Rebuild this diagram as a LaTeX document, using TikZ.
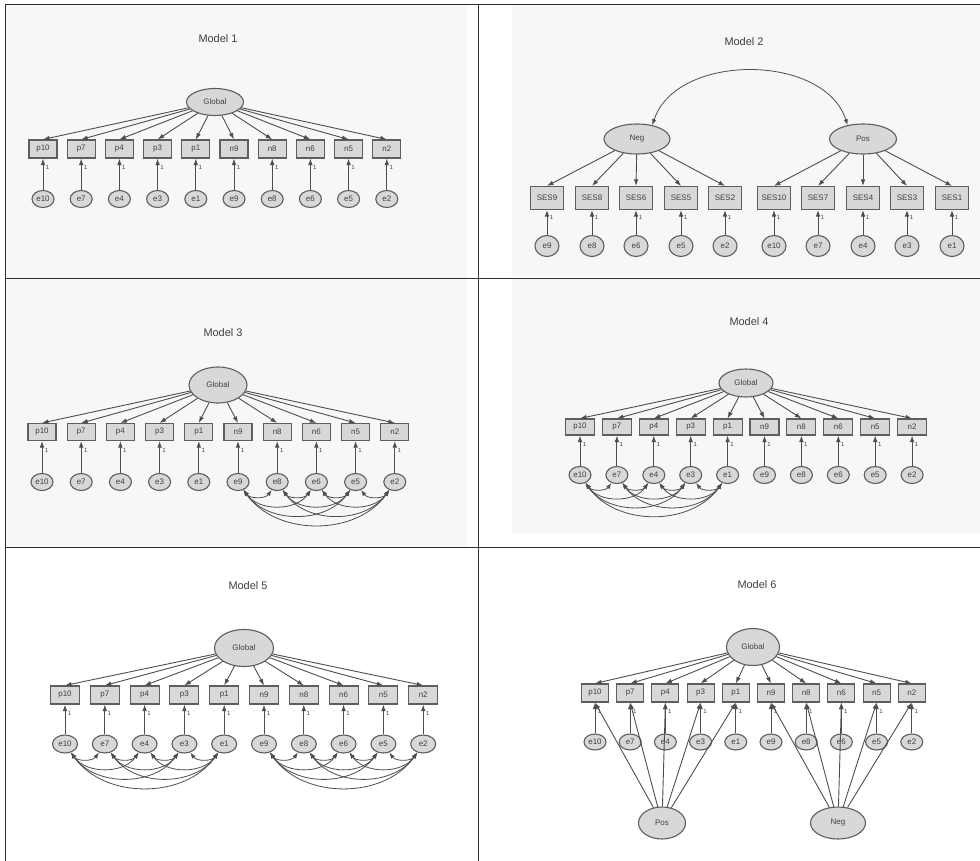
\documentclass[tikz,border=0pt]{standalone}
\usepackage{fontspec}
\setmainfont{Liberation Sans}
\usetikzlibrary{arrows.meta,shapes.geometric}

\definecolor{lineC}{HTML}{4E4E4E}
\definecolor{nodeFill}{HTML}{D8D8D8}
\definecolor{nodeLine}{HTML}{5E5E5E}
\definecolor{txtC}{HTML}{404040}
\definecolor{panelBg}{HTML}{F7F7F7}
\definecolor{ruleC}{HTML}{2E2E2E}

\tikzset{
  latent/.style={ellipse, draw=nodeLine, fill=nodeFill, line width=1.1bp, inner sep=0pt,
    font=\fontsize{8}{9}\selectfont, text=txtC},
  errnode/.style={ellipse, draw=nodeLine, fill=nodeFill, line width=1.1bp, inner sep=0pt,
    font=\fontsize{8}{9}\selectfont, text=txtC},
  itembox/.style={rectangle, draw=nodeLine, fill=nodeFill, line width=1.1bp, inner sep=0pt,
    font=\fontsize{8}{9}\selectfont, text=txtC},
  load/.style={draw=lineC, line width=0.9bp, -{Latex[length=6.5bp,width=4.6bp]}},
  cov/.style={draw=lineC, line width=0.8bp, {Latex[length=6bp,width=4.4bp]}-{Latex[length=6bp,width=4.4bp]}},
  onelab/.style={font=\fontsize{6}{6}\selectfont, text=txtC, inner sep=0pt},
  paneltitle/.style={font=\fontsize{11}{12}\selectfont, text=txtC},
  rule/.style={draw=ruleC, line width=0.8bp},
}

% ten indicators with their error terms; #1 prefix, #2 first x, #3 step, #4 box y, #5 error y
\newcommand\itemrow[5]{%
  \foreach \iv/\ev [count=\k from 0] in {p10/e10,p7/e7,p4/e4,p3/e3,p1/e1,n9/e9,n8/e8,n6/e6,n5/e5,n2/e2}{
    \pgfmathsetmacro\xx{#2+\k*#3}
    \node[itembox] (#1\iv) at (\xx,#4) {\iv};
    \node[errnode] (#1\ev) at (\xx,#5) {\ev};
    \draw[load] (#1\ev) -- (#1\iv);
    \node[onelab] at ([xshift=4.5bp,yshift=-9bp]#1\iv.south) {1};
  }%
}
% loadings of the general factor on all ten indicators
\newcommand\globalload[1]{%
  \foreach \iv in {p10,p7,p4,p3,p1,n9,n8,n6,n5,n2}{
    \draw[load] (#1G) -- (#1\iv.north);
  }%
}
% all pairwise error covariances within a set of five
\newcommand\covset[2]{%
  \foreach \a [count=\i] in {#2}{
    \foreach \b [count=\j] in {#2}{
      \ifnum\j>\i
        \draw[cov] (#1\a.-55) to[out=-55,in=-125] (#1\b.-125);
      \fi
    }
  }%
}

\begin{document}
\begin{tikzpicture}[x=1bp,y=-1bp]
\useasboundingbox (0,0) rectangle (980,861);
\fill[white] (0,0) rectangle (980,861);

% panel backgrounds
\fill[panelBg] (5,4) rectangle (467,278);
\fill[panelBg] (512,4) rectangle (980,277);
\fill[panelBg] (5,279) rectangle (467,547);
\fill[panelBg] (512,279) rectangle (980,534);

% table rules
\draw[rule] (5,4) -- (980,4);
\draw[rule] (5,4) -- (5,861);
\draw[rule] (478,4) -- (478,861);
\draw[rule] (5,278.5) -- (980,278.5);
\draw[rule] (5,547) -- (980,547);

% ---------------- Model 1 ----------------
\node[paneltitle] (t1) at (218,39) {Model 1};
\begin{scope}[itembox/.append style={minimum width=28bp,minimum height=18bp},
              errnode/.append style={minimum width=22bp,minimum height=17bp}]
  \node[latent, minimum width=57bp, minimum height=27bp] (aG) at (215,102) {Global};
  \itemrow{a}{43}{38.2}{149}{199}
  \globalload{a}
\end{scope}

% ---------------- Model 2 ----------------
\node[paneltitle] (t2) at (744,42) {Model 2};
\begin{scope}[itembox/.append style={minimum width=33bp,minimum height=23bp},
              errnode/.append style={minimum width=24bp,minimum height=21bp}]
  \node[latent, minimum width=66bp, minimum height=30bp] (bNeg) at (637,139) {Neg};
  \node[latent, minimum width=67bp, minimum height=30bp] (bPos) at (863,139) {Pos};
  \foreach \iv/\ev/\xx/\fa in {SES9/e9/547/Neg,SES8/e8/592/Neg,SES6/e6/636/Neg,SES5/e5/681/Neg,SES2/e2/725/Neg,
                               SES10/e10/774/Pos,SES7/e7/818/Pos,SES4/e4/863/Pos,SES3/e3/907/Pos,SES1/e1/952/Pos}{
    \node[itembox] (b\iv) at (\xx,198) {\iv};
    \node[errnode] (b\ev) at (\xx,246) {\ev};
    \draw[load] (b\ev) -- (b\iv);
    \node[onelab] at ([xshift=4.5bp,yshift=-7bp]b\iv.south) {1};
    \draw[load] (b\fa) -- (b\iv.north);
  }
  \draw[cov] (bNeg.42) to[out=72,in=108] (bPos.138);
\end{scope}

% ---------------- Model 3 ----------------
\node[paneltitle] (t3) at (223,333) {Model 3};
\begin{scope}[itembox/.append style={minimum width=28bp,minimum height=17bp},
              errnode/.append style={minimum width=22bp,minimum height=17bp}]
  \node[latent, minimum width=58bp, minimum height=36bp] (cG) at (218,385) {Global};
  \itemrow{c}{42}{39.2}{432}{482}
  \globalload{c}
  \covset{c}{e9,e8,e6,e5,e2}
\end{scope}

% ---------------- Model 4 ----------------
\node[paneltitle] (t4) at (749,322) {Model 4};
\begin{scope}[itembox/.append style={minimum width=29bp,minimum height=16bp},
              errnode/.append style={minimum width=22bp,minimum height=17bp}]
  \node[latent, minimum width=54bp, minimum height=28bp] (dG) at (746,383) {Global};
  \itemrow{d}{580}{36.9}{427}{475}
  \globalload{d}
  \covset{d}{e10,e7,e4,e3,e1}
\end{scope}

% ---------------- Model 5 ----------------
\node[paneltitle] (t5) at (248,586) {Model 5};
\begin{scope}[itembox/.append style={minimum width=29bp,minimum height=18bp},
              errnode/.append style={minimum width=25bp,minimum height=18bp}]
  \node[latent, minimum width=59bp, minimum height=37bp] (eG) at (244,648) {Global};
  \itemrow{e}{65}{39.8}{695}{744}
  \globalload{e}
  \covset{e}{e10,e7,e4,e3,e1}
  \covset{e}{e9,e8,e6,e5,e2}
\end{scope}

% ---------------- Model 6 ----------------
\node[paneltitle] (t6) at (757,585) {Model 6};
\begin{scope}[itembox/.append style={minimum width=27bp,minimum height=18bp},
              errnode/.append style={minimum width=22bp,minimum height=16bp}]
  \node[latent, minimum width=53bp, minimum height=37bp] (fG) at (753,647) {Global};
  \itemrow{f}{595}{35.2}{693}{742}
  \globalload{f}
  \node[latent, minimum width=47bp, minimum height=32bp] (fPos) at (662,823) {Pos};
  \node[latent, minimum width=55bp, minimum height=32bp] (fNeg) at (838,823) {Neg};
  \foreach \iv in {p10,p7,p4,p3,p1}{\draw[load] (fPos) -- (f\iv.south);}
  \foreach \iv in {n9,n8,n6,n5,n2}{\draw[load] (fNeg) -- (f\iv.south);}
\end{scope}

\end{tikzpicture}
\end{document}
